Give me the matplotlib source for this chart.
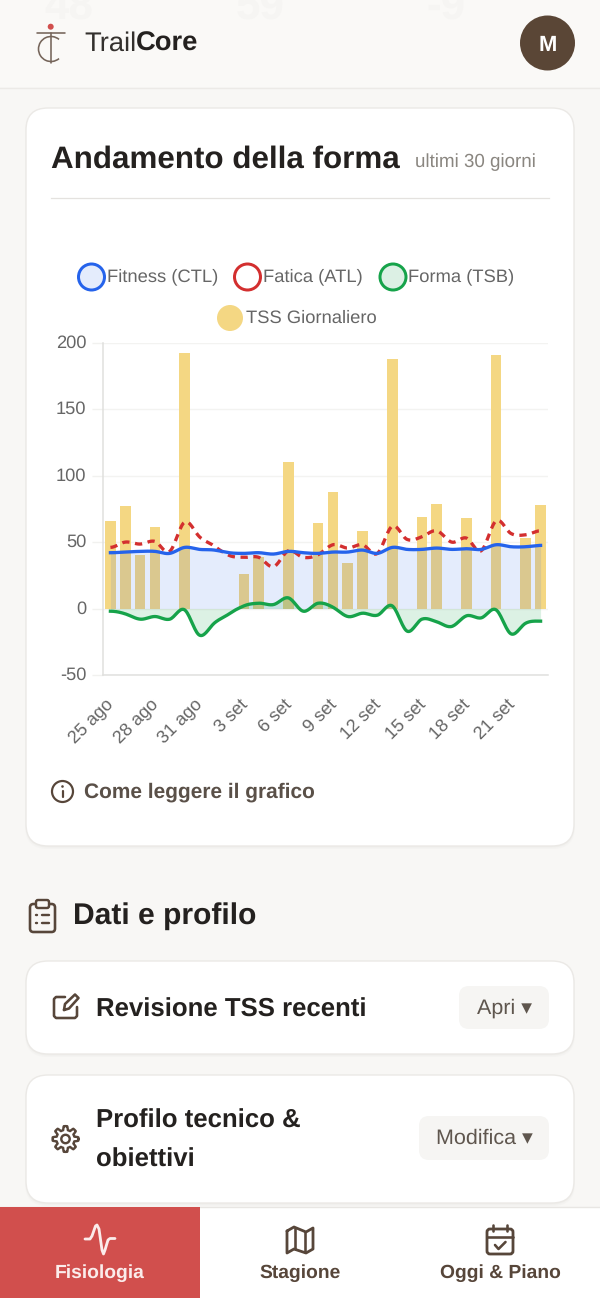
import numpy as np
import matplotlib
matplotlib.use('Agg')
import matplotlib.pyplot as plt
from matplotlib.patches import FancyBboxPatch, Circle, Rectangle, Arc
from matplotlib.transforms import ScaledTranslation

plt.rcParams['font.family'] = ['Liberation Sans', 'DejaVu Sans']
plt.rcParams['text.hinting'] = 'no_hinting'
plt.rcParams['axes.unicode_minus'] = False

# --- data ---
days = ['25 ago', '26 ago', '27 ago', '28 ago', '29 ago', '30 ago', '31 ago', '1 set', '2 set', '3 set',
        '4 set', '5 set', '6 set', '7 set', '8 set', '9 set', '10 set', '11 set', '12 set', '13 set',
        '14 set', '15 set', '16 set', '17 set', '18 set', '19 set', '20 set', '21 set', '22 set', '23 set']
tss = [66, 77, 40, 61, 0, 192, 0, 0, 0, 26, 39, 0, 110, 0, 64, 88, 34, 58, 0, 188,
       0, 69, 79, 0, 68, 0, 191, 0, 53, 78]
ctl = [42, 42.5, 43, 43, 41.5, 46, 44.5, 44, 42, 41.5, 42, 41, 43, 42, 41.5, 42.5, 42.5, 44, 41.5, 46,
       44.5, 44.5, 45.5, 44.5, 45, 44.5, 48, 46.5, 46.5, 47.5]
atl = [46, 50, 48.5, 50.5, 43, 65, 54, 47, 40, 38.5, 38.5, 31.5, 43.5, 38.5, 40.5, 48, 45.5, 48, 41.5, 62,
       52, 54, 58.5, 50, 53, 43.5, 66, 56.5, 55.5, 58.5]
tsb = [-2, -4, -8, -6, -8, -1, -20, -11, -4, 2, 4, 3, 8, -2, 4, 1, -6, -3.5, -5, 2,
       -17, -8, -10, -13.5, -5.5, -7, -1, -19, -11, -9.5]
y_ticks = [-50, 0, 50, 100, 150, 200]
legend_row1 = ['Fitness (CTL)', 'Fatica (ATL)', 'Forma (TSB)']
legend_row2 = 'TSS Giornaliero'
nav_labels = ['Fisiologia', 'Stagione', 'Oggi & Piano']

BROWN = '#57463A'
INK = '#24211F'
GREY = '#666666'
BLUE = '#2563EB'
RED = '#D32F2F'
GREEN = '#16A34A'
GOLD = '#F4D783'
PX = 0.72  # css px to points at dpi 100


def smooth(values, per_seg=16, tension=0.2):
    # same bezier the web chart uses for its lines
    v = np.asarray(values, float)
    grad = np.zeros_like(v)
    grad[1:-1] = v[2:] - v[:-2]
    xs, ys = [], []
    for i in range(len(v) - 1):
        p0, p3 = v[i], v[i + 1]
        p1 = p0 + tension * grad[i]
        p2 = p3 - tension * grad[i + 1]
        t = np.linspace(0, 1, per_seg, endpoint=False)
        ys.append((1 - t)**3 * p0 + 3 * (1 - t)**2 * t * p1 + 3 * (1 - t) * t**2 * p2 + t**3 * p3)
        xs.append(i + t)
    return np.append(np.concatenate(xs), len(v) - 1), np.append(np.concatenate(ys), v[-1])


fig = plt.figure(figsize=(6, 12.98), dpi=100, facecolor='#F8F7F5')

# UI layer in pixel coordinates
ui = fig.add_axes([0, 0, 1, 1], zorder=1)
ui.set_xlim(0, 600)
ui.set_ylim(1298, 0)
ui.axis('off')


def rbox(x0, y0, x1, y1, r, fc, ec='none', lw=0, z=1):
    p = FancyBboxPatch((x0 + r, y0 + r), x1 - x0 - 2 * r, y1 - y0 - 2 * r,
                       boxstyle=f'round,pad={r},rounding_size={r}', fc=fc, ec=ec, lw=lw, zorder=z)
    ui.add_patch(p)


def card(x0, y0, x1, y1):
    # soft shadow, then the white card
    rbox(x0 - 1, y0, x1 + 1, y1 + 3, 23, '#F4F3F1', z=0.8)
    rbox(x0, y0, x1, y1 + 1.5, 22, '#F0EFEC', z=0.9)
    rbox(x0, y0, x1, y1, 22, 'white', '#EBE9E6', 1.0)


def txt(x, y, s, px, color=INK, weight='normal', ha='left', z=6, **kw):
    return ui.text(x, y - 0.7, s, fontsize=px * PX, color=color, weight=weight, ha=ha, va='center_baseline', zorder=z, **kw)


def stroke(pts, color=BROWN, lw=2.6, z=6):
    xs, ys = zip(*pts)
    ui.plot(xs, ys, color=color, lw=lw * PX, solid_capstyle='round', solid_joinstyle='round', zorder=z)


# header
ui.add_patch(Rectangle((0, 0), 600, 87, fc='#FAF9F7', ec='none', zorder=1))
ui.plot([0, 600], [87.5, 87.5], color='#ECEAE7', lw=1.0, zorder=2)
for x, s in [(69, '48'), (260, '59'), (446, '-9')]:
    txt(x, 4, s, 44, color='#F6F5F3', weight='bold', ha='center', z=2)

stroke([(37, 33.3), (65, 33.3)], color='#75655A', lw=1.6)
stroke([(51, 33), (51, 62.5)], color='#75655A', lw=1.6)
ui.add_patch(Arc((51, 49), 25, 25, theta1=50, theta2=310, color='#75655A', lw=1.6 * PX, zorder=6))
ui.add_patch(Circle((50.7, 26.7), 3, fc='#D14F4D', ec='none', zorder=6))
t1 = txt(84, 42, 'Trail', 27.4, color='#33302D')
bb = t1.get_window_extent(fig.canvas.get_renderer())
txt(bb.x1 - 0.5, 42, 'Core', 27.4, color=INK, weight='bold')
ui.add_patch(Circle((547.5, 43), 27.5, fc='#5A4636', ec='none', zorder=5))
txt(547.5, 43.5, 'M', 22, color='white', weight='bold', ha='center')

# chart card
card(26, 108, 574, 846)
txt(51, 157, 'Andamento della forma', 31.4, weight='bold')
txt(415, 161, 'ultimi 30 giorni', 18.8, color='#8A8680')
ui.plot([51, 549], [197.5, 197.5], color='#E4E2DF', lw=0.9, zorder=3)

# legend
for cx, label, ec, fc in zip([91.5, 247.5, 393], legend_row1, [BLUE, RED, GREEN], ['#E4ECFC', '#FFFFFF', '#DCF0E4']):
    ui.add_patch(Circle((cx, 277), 13, fc=fc, ec=ec, lw=3 * PX, zorder=5))
    txt(cx + 15.5, 275.5, label, 18.35, color=GREY)
ui.add_patch(Circle((230, 318), 13, fc=GOLD, ec='none', zorder=5))
txt(245.5, 317.5, legend_row2, 18.35, color=GREY)

# info line
ui.add_patch(Circle((62.5, 791.5), 10.5, fc='none', ec=BROWN, lw=2.2 * PX, zorder=6))
stroke([(62.5, 791), (62.5, 796.5)], lw=2.2)
ui.add_patch(Circle((62.5, 786.5), 1.3, fc=BROWN, ec='none', zorder=6))
txt(84, 791, 'Come leggere il grafico', 20.9, color='#5A5048', weight='bold')

# section heading
rbox(30, 904, 55, 932, 3.5, 'none', BROWN, 2.6 * PX, z=6)
rbox(36, 900, 49, 908, 2, '#F8F7F5', BROWN, 2.4 * PX, z=7)
for yy in (915, 923):
    stroke([(36, yy), (37, yy)], lw=2.4)
    stroke([(42, yy), (49, yy)], lw=2.4)
txt(73, 914, 'Dati e profilo', 30, weight='bold')

# collapsible cards
card(26, 961, 574, 1054)
card(26, 1075, 574, 1203)
stroke([(65, 997), (56, 997), (54, 999), (54, 1016), (56, 1018), (75, 1018), (77, 1016), (77, 1007)])
stroke([(64, 1010), (65, 1004), (75, 994.5), (78.5, 998), (69, 1008.5), (64, 1010)])
txt(96, 1008, 'Revisione TSS recenti', 25.8, weight='bold')
rbox(459, 986, 549, 1029, 10, '#F6F5F3')
txt(477, 1007, 'Apri ▾', 21.5, color='#5F564E')

# gear
th = np.linspace(0, 2 * np.pi, 241)
rad = 11 + 1.9 * np.clip(2.2 * np.cos(8 * th), -1, 1)
ui.plot(65.5 + rad * np.cos(th), 1139 + rad * np.sin(th), color=BROWN, lw=2.4 * PX, zorder=6)
ui.add_patch(Circle((65.5, 1139), 4.2, fc='none', ec=BROWN, lw=2.4 * PX, zorder=6))
txt(96, 1119, 'Profilo tecnico &', 25.8, weight='bold')
txt(96, 1158, 'obiettivi', 25.8, weight='bold')
rbox(419, 1116, 549, 1160, 10, '#F6F5F3')
txt(436, 1137, 'Modifica ▾', 21.5, color='#5F564E')

# bottom nav
ui.add_patch(Rectangle((0, 1207), 600, 91, fc='white', ec='none', zorder=3))
ui.plot([0, 600], [1206.5, 1206.5], color='#E8E6E3', lw=1, zorder=3)
ui.add_patch(Rectangle((0, 1207), 200, 91, fc='#D14F4D', ec='none', zorder=4))
for cx, label, col in zip([100, 300, 500], nav_labels, ['#FBECEB', BROWN, BROWN]):
    txt(cx, 1272, label, 19.3, color=col, weight='bold', ha='center')
stroke([(85, 1239), (90, 1239), (92, 1236), (95.5, 1226), (97, 1225), (99, 1229), (102, 1250), (103.5, 1254), (105, 1250), (108, 1240), (110, 1238.5), (115, 1238.5)],
       color='#FBECEB', lw=2.8)
stroke([(287, 1231), (294, 1227), (306, 1232), (313, 1228), (313, 1249), (306, 1253), (294, 1249), (287, 1253), (287, 1231)], lw=2.8)
stroke([(295, 1228), (295, 1249)], lw=2.6)
stroke([(305, 1232), (305, 1252)], lw=2.6)
rbox(487, 1229, 513, 1254, 3, 'none', BROWN, 2.8 * PX, z=6)
stroke([(487, 1237), (513, 1237)], lw=2.6)
stroke([(493, 1225), (493, 1231)], lw=2.6)
stroke([(507, 1225), (507, 1231)], lw=2.6)
stroke([(495, 1245), (498.5, 1249), (505.5, 1242)], lw=2.6)

# chart
ax = fig.add_axes([103 / 600, 1 - 675 / 1298, 445 / 600, 332.3 / 1298], zorder=2)
ax.patch.set_alpha(0)
x = np.arange(len(days))
ax.bar(x, tss, width=0.71, color=GOLD, zorder=2)
cx, cy = smooth(ctl)
ax.fill_between(cx, 0, cy, color=BLUE, alpha=0.12, lw=0, zorder=3)
ax.plot(cx, cy, color=BLUE, lw=3.3 * PX, zorder=5)
ax_, ay = smooth(atl)
ax.plot(ax_, ay, color=RED, lw=3.3 * PX, dashes=(2.2, 1.7), zorder=4)
gx, gy = smooth(tsb)
ax.fill_between(gx, 0, gy, color=GREEN, alpha=0.15, lw=0, zorder=3)
ax.plot(gx, gy, color=GREEN, lw=3.3 * PX, zorder=5)

ax.set_xlim(-0.5, len(days) - 0.5)
ax.set_ylim(-50, 200)
ax.set_yticks(y_ticks)
ax.set_xticks(x[::3])
ax.set_xticklabels(days[::3], rotation=45, ha='right', rotation_mode='anchor')
ax.tick_params(axis='y', length=8, width=1, color='#F1F1EF', labelcolor=GREY, labelsize=18.3 * PX, pad=4)
ax.tick_params(axis='x', length=0, labelcolor=GREY, labelsize=18 * PX, pad=15)
ax.grid(axis='y', color='#F3F3F1', lw=1, zorder=0)
ax.set_axisbelow(True)
for side in ('top', 'right'):
    ax.spines[side].set_visible(False)
for side in ('left', 'bottom'):
    ax.spines[side].set_color('#E0E0DE')
    ax.spines[side].set_linewidth(1.1)

# tick labels sit a little off the default spot in the web chart
for lab in ax.get_yticklabels():
    lab.set_transform(lab.get_transform() + ScaledTranslation(0, 1.5 / 100, fig.dpi_scale_trans))
for lab in ax.get_xticklabels():
    lab.set_transform(lab.get_transform() + ScaledTranslation(-5 / 100, 0, fig.dpi_scale_trans))

fig.savefig('out.png', dpi=100, facecolor=fig.get_facecolor())
